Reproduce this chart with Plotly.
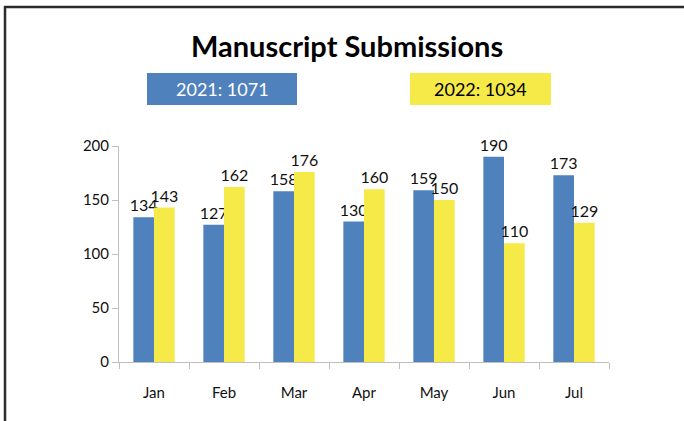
import plotly.graph_objects as go

# Monthly manuscript submissions, two years side by side
months = ["Jan", "Feb", "Mar", "Apr", "May", "Jun", "Jul"]
subs_2021 = [134, 127, 158, 130, 159, 190, 173]
subs_2022 = [143, 162, 176, 160, 150, 110, 129]
year_labels = ["2021: 1071", "2022: 1034"]

BLUE = "#4F81BD"
YELLOW = "#F6EA48"
FONT = "Lato, Carlito, Calibri, sans-serif"

W, H = 684, 421
L, R, T, B = 119, 75, 146, 59
PW, PH = W - L - R, H - T - B


def px(x):
    return (x - L) / PW


def py(y):
    return (H - B - y) / PH


fig = go.Figure()
for vals, col, name in [(subs_2021, BLUE, "2021"), (subs_2022, YELLOW, "2022")]:
    fig.add_trace(go.Bar(
        x=months, y=vals, name=name, marker=dict(color=col, line=dict(width=0)),
        text=[str(v) for v in vals], textposition="outside",
        constraintext="none",
        textfont=dict(family=FONT, size=16, color="#111"),
        cliponaxis=False,
    ))

shapes = [
    # frame lines along top and left
    dict(type="line", xref="paper", yref="paper", x0=px(4), x1=px(684), y0=py(7), y1=py(7),
         line=dict(color="#2b2b2b", width=2.5)),
    dict(type="line", xref="paper", yref="paper", x0=px(5), x1=px(5), y0=py(6), y1=py(421),
         line=dict(color="#2b2b2b", width=2.5)),
    # year total boxes
    dict(type="rect", xref="paper", yref="paper", x0=px(147), x1=px(297), y0=py(73), y1=py(105),
         fillcolor=BLUE, line=dict(width=0), layer="below"),
    dict(type="rect", xref="paper", yref="paper", x0=px(410), x1=px(551), y0=py(73), y1=py(105),
         fillcolor=YELLOW, line=dict(width=0), layer="below"),
]

annotations = [
    dict(text="<b>Manuscript Submissions</b>", xref="paper", yref="paper", x=px(347), y=py(45),
         showarrow=False, xanchor="center", yanchor="middle",
         font=dict(family=FONT, size=29, color="#000")),
    dict(text=year_labels[0], xref="paper", yref="paper", x=px(222), y=py(89),
         showarrow=False, xanchor="center", yanchor="middle",
         font=dict(family=FONT, size=18, color="#fff")),
    dict(text=year_labels[1], xref="paper", yref="paper", x=px(480), y=py(89),
         showarrow=False, xanchor="center", yanchor="middle",
         font=dict(family=FONT, size=18, color="#000")),
]

fig.update_layout(
    width=W, height=H,
    margin=dict(l=L, r=R, t=T, b=B, pad=0),
    paper_bgcolor="white", plot_bgcolor="white",
    barmode="group", bargap=0.41, bargroupgap=0,
    showlegend=False,
    shapes=shapes, annotations=annotations,
    font=dict(family=FONT, size=15, color="#111"),
)
fig.update_xaxes(
    showline=True, linecolor="#BFBFBF", linewidth=1,
    ticks="outside", tickson="boundaries", ticklen=6, tickcolor="#BFBFBF",
    ticklabelstandoff=17, showgrid=False,
    tickfont=dict(family=FONT, size=15, color="#111"),
)
fig.update_yaxes(
    range=[0, 200], tickvals=[0, 50, 100, 150, 200],
    showline=True, linecolor="#BFBFBF", linewidth=1,
    ticks="outside", ticklen=6, tickcolor="#BFBFBF",
    showgrid=False, zeroline=False,
    tickfont=dict(family=FONT, size=15, color="#111"),
)

fig.write_html("out.html")
